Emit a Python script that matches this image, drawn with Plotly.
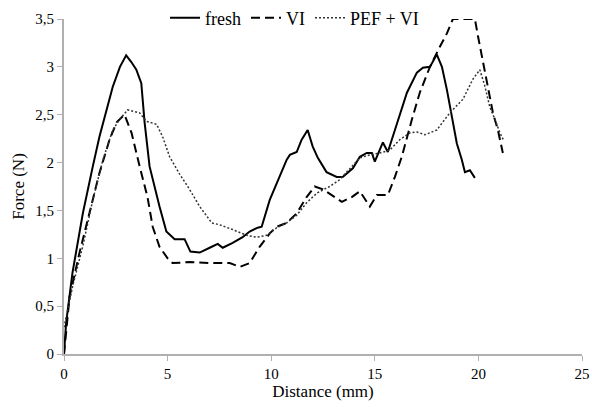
import plotly.graph_objects as go

fresh_x = [0, 0.1, 0.41, 0.91, 1.39, 1.71, 2.35, 2.7, 3.0, 3.25, 3.49, 3.73, 3.89, 4.13, 4.61, 4.94, 5.34, 5.82, 6.1, 6.55, 7.03, 7.42, 7.66, 8.14, 8.62, 8.96, 9.35, 9.54, 9.93, 10.27, 10.75, 10.9, 11.23, 11.47, 11.76, 12.0, 12.25, 12.67, 13.16, 13.45, 13.94, 14.28, 14.61, 14.86, 15.0, 15.39, 15.63, 16.06, 16.55, 17.03, 17.32, 17.66, 17.99, 18.24, 18.48, 18.72, 18.96, 19.2, 19.35, 19.59, 19.83]
fresh_y = [0, 0.32, 0.85, 1.47, 1.96, 2.27, 2.79, 3.0, 3.12, 3.05, 2.97, 2.83, 2.42, 1.96, 1.54, 1.28, 1.20, 1.20, 1.07, 1.06, 1.11, 1.15, 1.11, 1.16, 1.22, 1.28, 1.32, 1.33, 1.61, 1.79, 2.03, 2.08, 2.11, 2.24, 2.34, 2.17, 2.05, 1.90, 1.85, 1.85, 1.94, 2.06, 2.10, 2.10, 2.01, 2.21, 2.11, 2.40, 2.73, 2.94, 2.99, 3.0, 3.13, 3.0, 2.76, 2.48, 2.2, 2.03, 1.9, 1.92, 1.84]

vi_x = [0, 0.27, 0.75, 1.23, 1.71, 2.2, 2.54, 2.92, 3.26, 3.65, 4.03, 4.28, 4.61, 5.0, 5.24, 6.06, 7.0, 8.0, 8.48, 8.96, 9.44, 9.93, 10.27, 10.75, 11.23, 11.71, 12.1, 12.5, 12.92, 13.41, 13.89, 14.28, 14.76, 15.1, 15.63, 15.97, 16.3, 16.55, 16.79, 17.17, 17.66, 18.14, 18.48, 18.77, 19.25, 19.83, 19.98, 20.22, 20.46, 20.7, 20.94, 21.18]
vi_y = [0, 0.6, 1.06, 1.47, 1.89, 2.24, 2.42, 2.50, 2.31, 1.96, 1.64, 1.33, 1.12, 1.0, 0.95, 0.96, 0.95, 0.95, 0.91, 0.95, 1.12, 1.26, 1.33, 1.37, 1.47, 1.64, 1.75, 1.72, 1.66, 1.59, 1.64, 1.70, 1.54, 1.66, 1.66, 1.85, 2.06, 2.27, 2.45, 2.73, 3.0, 3.21, 3.35, 3.5, 3.5, 3.5, 3.32, 3.04, 2.8, 2.52, 2.34, 2.1]

pef_x = [0, 0.41, 0.9, 1.39, 1.88, 2.35, 2.68, 3.07, 3.65, 3.98, 4.47, 4.76, 5.1, 5.58, 6.06, 6.55, 7.13, 7.51, 8.14, 8.82, 9.3, 9.78, 10.27, 10.75, 11.23, 11.71, 12.2, 12.82, 13.3, 13.79, 14.28, 14.76, 15.24, 15.72, 16.21, 16.69, 17.03, 17.42, 17.99, 18.62, 19.25, 19.73, 20.07, 20.31, 20.55, 20.8, 21.04, 21.2]
pef_y = [0.28, 0.7, 1.12, 1.61, 2.03, 2.34, 2.45, 2.55, 2.52, 2.43, 2.40, 2.27, 2.06, 1.88, 1.72, 1.54, 1.37, 1.35, 1.30, 1.24, 1.22, 1.24, 1.32, 1.37, 1.45, 1.58, 1.68, 1.75, 1.82, 1.94, 2.05, 2.08, 2.10, 2.13, 2.24, 2.31, 2.32, 2.29, 2.34, 2.52, 2.66, 2.87, 2.97, 2.8, 2.58, 2.45, 2.31, 2.24]

x_ticks = [0, 5, 10, 15, 20, 25]
y_ticks = [0, 0.5, 1, 1.5, 2, 2.5, 3, 3.5]
y_tick_labels = ["0", "0,5", "1", "1,5", "2", "2,5", "3", "3,5"]

FONT = "Liberation Serif"

fig = go.Figure()
fig.add_trace(go.Scatter(x=fresh_x, y=fresh_y, mode="lines", name="fresh",
                         line=dict(color="black", width=2)))
fig.add_trace(go.Scatter(x=vi_x, y=vi_y, mode="lines", name="VI",
                         line=dict(color="black", width=2, dash="9px,5px")))
fig.add_trace(go.Scatter(x=pef_x, y=pef_y, mode="lines", name="PEF + VI",
                         line=dict(color="#333333", width=1.5, dash="2px,2px")))

axis_common = dict(showgrid=False, zeroline=False, showline=True, linecolor="#b0b0b0",
                   linewidth=2, ticks="outside", tickcolor="#b0b0b0", ticklen=5,
                   tickfont=dict(family=FONT, size=15, color="black"), automargin=False)

fig.update_layout(
    width=592, height=407,
    margin=dict(l=64, r=10, t=19, b=53, autoexpand=False),
    paper_bgcolor="white", plot_bgcolor="white",
    font=dict(family=FONT, size=15, color="black"),
    showlegend=True,
    legend=dict(orientation="h", x=0.195, y=1.003, xanchor="left", yanchor="middle",
                font=dict(family=FONT, size=18, color="black"),
                bgcolor="rgba(0,0,0,0)", itemwidth=30),
    xaxis=dict(range=[0, 25], tickvals=x_ticks,
               title=dict(text="Distance (mm)", font=dict(family=FONT, size=17), standoff=4),
               **axis_common),
    yaxis=dict(range=[0, 3.5], tickvals=y_ticks, ticktext=y_tick_labels,
               title=dict(text="Force (N)", font=dict(family=FONT, size=17), standoff=6),
               **axis_common),
)

fig.write_html("out.html")
